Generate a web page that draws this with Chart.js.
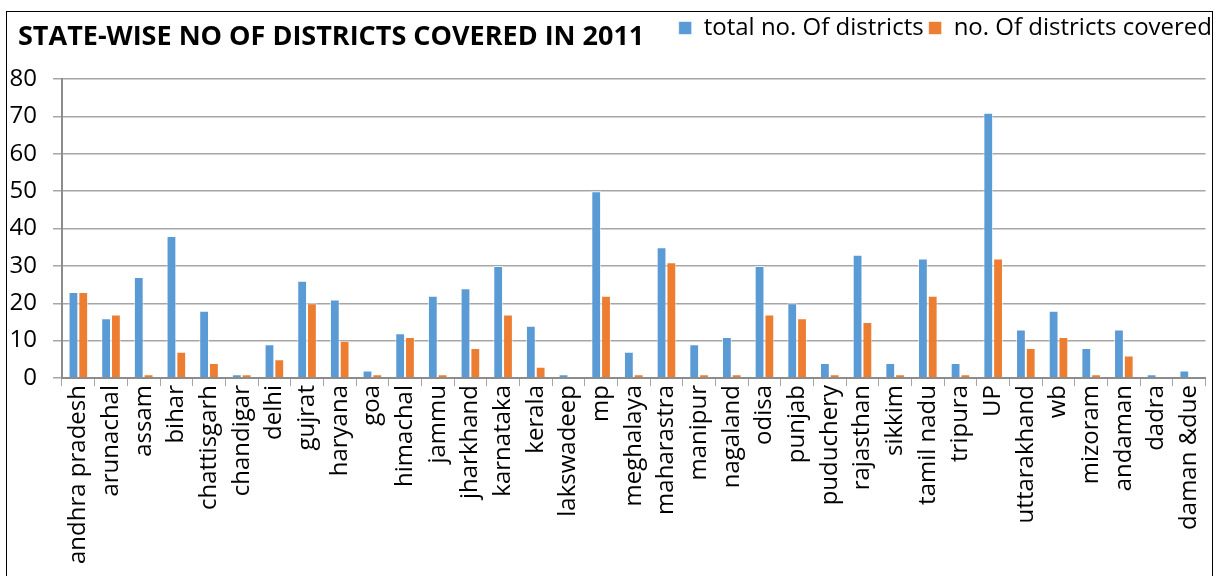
<!DOCTYPE html>
<html>
<head>
<meta charset="utf-8">
<script src="https://cdn.jsdelivr.net/npm/chart.js@4"></script>
<style>
  html, body { margin: 0; padding: 0; background: #fff; }
  #wrap { width: 1217px; height: 576px; position: relative; }
</style>
</head>
<body>
<div id="wrap"><canvas id="districtChart" width="1217" height="576"></canvas></div>
<script>
const states = ['andhra pradesh', 'arunachal', 'assam', 'bihar', 'chattisgarh', 'chandigar', 'delhi',
  'gujrat', 'haryana', 'goa', 'himachal', 'jammu', 'jharkhand', 'karnataka', 'kerala', 'lakswadeep',
  'mp', 'meghalaya', 'maharastra', 'manipur', 'nagaland', 'odisa', 'punjab', 'puduchery', 'rajasthan',
  'sikkim', 'tamil nadu', 'tripura', 'UP', 'uttarakhand', 'wb', 'mizoram', 'andaman', 'dadra', 'daman &due'];
const totalDistricts = [23, 16, 27, 38, 18, 1, 9, 26, 21, 2, 12, 22, 24, 30, 14, 1,
  50, 7, 35, 9, 11, 30, 20, 4, 33, 4, 32, 4, 71, 13, 18, 8, 13, 1, 2];
const coveredDistricts = [23, 17, 1, 7, 4, 1, 5, 20, 10, 1, 11, 1, 8, 17, 3, 0,
  22, 1, 31, 1, 1, 17, 16, 1, 15, 1, 22, 1, 32, 8, 11, 1, 6, 0, 0];
const yTicks = [0, 10, 20, 30, 40, 50, 60, 70, 80];
const chartTitle = 'STATE-WISE NO OF DISTRICTS COVERED IN 2011';

const FONT = "'Open Sans', sans-serif";

// title + outer frame, drawn by hand so the title can sit beside the legend
const frame = {
  id: 'frame',
  afterDraw(chart) {
    const c = chart.ctx;
    c.save();
    c.fillStyle = '#fff';
    c.fillRect(1213, 0, 10, 576);   // legend text is clipped at the frame
    c.strokeStyle = '#000';
    c.lineWidth = 1;
    c.strokeRect(6.5, 11.5, 1206, 600);
    c.fillStyle = '#000';
    c.font = "bold 27px " + FONT;
    c.textBaseline = 'middle';
    c.fillText(chartTitle, 18, 37);
    c.restore();
  }
};

const ctx = document.getElementById('districtChart').getContext('2d');
const districtChart = new Chart(ctx, {
  type: 'bar',
  data: {
    labels: states,
    datasets: [
      {
        label: 'total no. Of districts',
        data: totalDistricts,
        backgroundColor: '#5b9bd5',
        borderColor: 'rgba(255,255,255,0.6)',
        borderWidth: 1
      },
      {
        label: 'no. Of districts covered',
        data: coveredDistricts,
        backgroundColor: '#ed7d31',
        borderColor: 'rgba(255,255,255,0.6)',
        borderWidth: 1
      }
    ]
  },
  options: {
    responsive: false,
    animation: false,
    layout: { padding: { left: 8, right: 0, top: 11, bottom: 0 } },
    datasets: { bar: { barPercentage: 1, categoryPercentage: 0.6 } },
    plugins: {
      legend: {
        position: 'top',
        align: 'end',
        labels: {
          font: { family: FONT, size: 24 },
          color: '#000',
          boxWidth: 13,
          boxHeight: 13,
          padding: 5
        }
      },
      // empty title only used as a gap between legend row and plot
      title: {
        display: true,
        text: '',
        weight: 500,
        font: { size: 1, lineHeight: 1 },
        padding: { top: 0, bottom: 28 }
      },
      tooltip: { enabled: false }
    },
    scales: {
      x: {
        grid: { drawOnChartArea: false, tickLength: 8, color: '#a6a6a6' },
        border: { color: '#8c8c8c', width: 2 },
        ticks: {
          font: { family: FONT, size: 24 },
          color: '#000',
          minRotation: 90,
          maxRotation: 90,
          autoSkip: false,
          padding: -1
        },
        afterFit(scale) { scale.height = 198; }
      },
      y: {
        min: 0,
        max: 80,
        afterBuildTicks(scale) { scale.ticks = yTicks.map(v => ({ value: v })); },
        grid: { color: '#a6a6a6', lineWidth: 1.5, tickLength: 9 },
        border: { color: '#8c8c8c', width: 2 },
        ticks: {
          font: { family: FONT, size: 24 },
          color: '#000',
          padding: 16
        },
        afterFit(scale) { scale.width = 54; }
      }
    }
  },
  plugins: [frame]
});
</script>
</body>
</html>
